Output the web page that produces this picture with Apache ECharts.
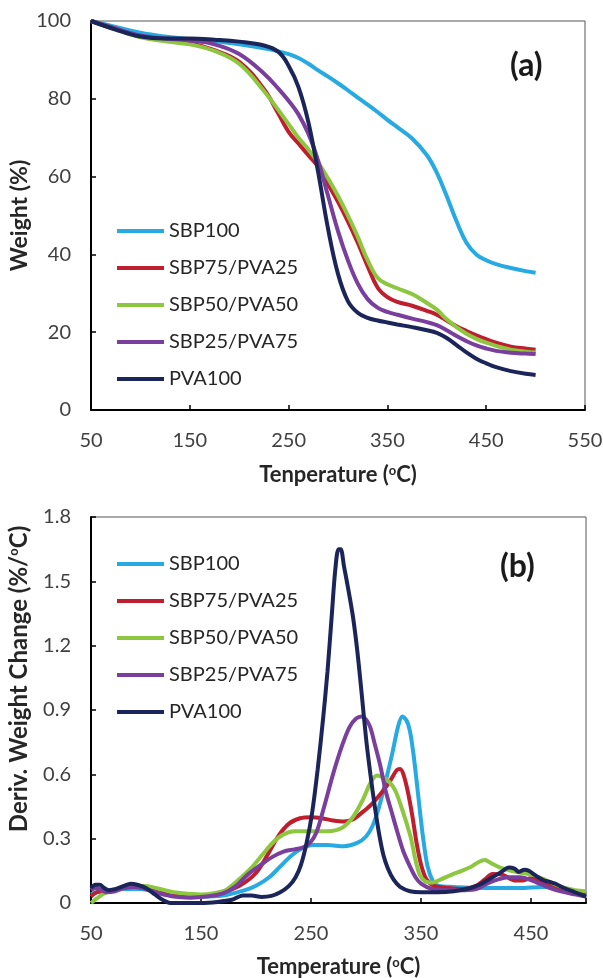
<!DOCTYPE html>
<html>
<head>
<meta charset="utf-8">
<script src="https://cdn.jsdelivr.net/npm/echarts@6/dist/echarts.min.js"></script>
<style>
  html, body { margin: 0; padding: 0; background: #fff; }
  #chart { width: 603px; height: 978px; }
</style>
</head>
<body>
<div id="chart"></div>
<script>
// 系列名称与颜色
const names = ["SBP100", "SBP75/PVA25", "SBP50/PVA50", "SBP25/PVA75", "PVA100"];
const colors = ["#27AAE1", "#BE1E2D", "#8DC63F", "#7A3E9D", "#1C2559"];

// (a) TGA 曲线: 温度 -> 失重
const tgaTemp = [50, 75, 100, 125, 150, 175, 200, 225, 240, 250, 260, 270, 280, 290, 300, 310, 320, 330, 340, 350, 360, 375, 390, 400, 410, 420, 430, 440, 450, 460, 475, 490, 500];
const tgaSbp100 = [100, 98.5, 97, 96, 95.3, 94.8, 94, 93, 92.2, 91.5, 90.5, 89, 87.3, 85.7, 84, 82.2, 80.3, 78.5, 76.6, 74.6, 72.7, 69.8, 65.5, 61, 55, 48.5, 43, 40, 38.5, 37.5, 36.5, 35.7, 35.3];
const tgaSbp75 = [100, 98, 96, 95, 94.3, 92.5, 89.5, 82.5, 76, 71.5, 68.5, 65.5, 62.5, 58, 53.5, 48.5, 43, 37, 31.5, 29, 27.8, 26.8, 25.5, 24.5, 23, 21.5, 20.3, 19.2, 18.2, 17.3, 16.3, 15.8, 15.5];
const tgaSbp50 = [100, 97.8, 95.8, 94.8, 94, 92.3, 89, 82, 77, 73.5, 70, 67, 63.5, 59.5, 55, 50, 44.5, 38.5, 34, 32.3, 31.3, 29.8, 27.5, 25.8, 23.3, 21.3, 19.6, 18.3, 17.3, 16.5, 15.5, 15, 14.8];
const tgaSbp25 = [100, 98, 96.3, 95.5, 95, 94, 91.5, 86.5, 82.5, 79.5, 76, 71, 64, 55, 46, 38.5, 32.5, 28.5, 26.3, 25.2, 24.5, 23.5, 22.6, 21.8, 20.5, 19, 17.7, 16.6, 15.8, 15.2, 14.7, 14.5, 14.4];
const tgaPva100 = [100, 97.8, 96, 95.5, 95.5, 95.2, 94.7, 93.7, 92, 88.5, 83, 74, 61, 46.5, 35, 28, 25, 23.7, 23, 22.5, 22, 21.3, 20.5, 19.8, 18.5, 16.7, 14.8, 13.2, 12, 11, 10, 9.3, 9];

// (b) DTG 曲线: [温度, 失重速率]
const dtgSbp100 = [[50, 0.04], [55, 0.05], [65, 0.06], [80, 0.065], [95, 0.065], [110, 0.05], [130, 0.035], [150, 0.03], [170, 0.035], [190, 0.06], [200, 0.08], [212, 0.12], [222, 0.17], [232, 0.22], [242, 0.255], [252, 0.27], [265, 0.27], [280, 0.265], [292, 0.28], [300, 0.31], [306, 0.36], [312, 0.45], [318, 0.57], [324, 0.7], [329, 0.82], [333, 0.87], [337, 0.85], [340, 0.8], [343, 0.7], [346, 0.57], [349, 0.43], [352, 0.3], [356, 0.17], [361, 0.1], [366, 0.08], [380, 0.075], [400, 0.07], [420, 0.07], [440, 0.07], [460, 0.075], [475, 0.07], [490, 0.055], [500, 0.04]];
const dtgSbp75 = [[50, 0.03], [55, 0.05], [65, 0.055], [80, 0.07], [92, 0.08], [105, 0.065], [125, 0.04], [150, 0.035], [170, 0.05], [185, 0.08], [200, 0.14], [210, 0.22], [220, 0.31], [230, 0.37], [240, 0.395], [250, 0.4], [260, 0.395], [270, 0.385], [280, 0.38], [288, 0.39], [296, 0.42], [305, 0.46], [315, 0.52], [322, 0.57], [328, 0.62], [331, 0.625], [334, 0.6], [338, 0.52], [342, 0.41], [346, 0.28], [350, 0.18], [355, 0.11], [362, 0.08], [375, 0.07], [388, 0.065], [400, 0.08], [408, 0.11], [415, 0.135], [425, 0.13], [435, 0.105], [442, 0.105], [450, 0.115], [460, 0.1], [475, 0.07], [490, 0.05], [500, 0.04]];
const dtgSbp50 = [[50, 0.0], [55, 0.02], [62, 0.045], [75, 0.065], [90, 0.08], [105, 0.075], [125, 0.05], [150, 0.04], [170, 0.055], [180, 0.09], [195, 0.16], [205, 0.22], [215, 0.28], [225, 0.32], [235, 0.335], [250, 0.335], [265, 0.335], [278, 0.35], [288, 0.4], [297, 0.48], [304, 0.56], [310, 0.595], [316, 0.585], [322, 0.56], [327, 0.52], [332, 0.45], [337, 0.37], [341, 0.3], [345, 0.2], [349, 0.13], [354, 0.1], [360, 0.095], [368, 0.11], [377, 0.13], [387, 0.15], [396, 0.17], [402, 0.19], [408, 0.2], [414, 0.185], [422, 0.165], [432, 0.15], [442, 0.14], [452, 0.13], [462, 0.11], [475, 0.08], [490, 0.06], [500, 0.055]];
const dtgSbp25 = [[50, 0.06], [54, 0.07], [58, 0.065], [64, 0.05], [72, 0.055], [80, 0.07], [90, 0.075], [100, 0.065], [112, 0.045], [125, 0.03], [140, 0.025], [155, 0.03], [170, 0.045], [182, 0.08], [192, 0.13], [205, 0.18], [215, 0.215], [225, 0.24], [235, 0.25], [243, 0.26], [249, 0.28], [255, 0.33], [262, 0.45], [270, 0.6], [278, 0.73], [285, 0.82], [291, 0.86], [296, 0.87], [303, 0.83], [308, 0.74], [313, 0.64], [318, 0.52], [323, 0.43], [328, 0.34], [334, 0.24], [340, 0.17], [345, 0.12], [350, 0.09], [360, 0.065], [375, 0.06], [390, 0.06], [400, 0.065], [410, 0.09], [420, 0.11], [430, 0.12], [440, 0.12], [448, 0.11], [458, 0.09], [470, 0.065], [485, 0.045], [500, 0.03]];
const dtgPva100 = [[50, 0.07], [54, 0.085], [58, 0.085], [62, 0.07], [66, 0.06], [72, 0.065], [80, 0.08], [86, 0.09], [92, 0.085], [100, 0.07], [108, 0.04], [115, 0.015], [122, 0.0], [135, 0.0], [150, 0.0], [165, 0.005], [178, 0.015], [188, 0.035], [196, 0.035], [205, 0.028], [214, 0.033], [222, 0.05], [230, 0.08], [236, 0.12], [241, 0.18], [246, 0.28], [251, 0.42], [256, 0.62], [261, 0.86], [265, 1.08], [269, 1.35], [272, 1.55], [275, 1.65], [277, 1.65], [280, 1.57], [284, 1.46], [288, 1.34], [292, 1.18], [296, 0.98], [300, 0.77], [304, 0.6], [308, 0.45], [312, 0.32], [316, 0.22], [320, 0.16], [325, 0.11], [331, 0.075], [340, 0.055], [350, 0.05], [365, 0.05], [380, 0.055], [395, 0.07], [405, 0.09], [415, 0.12], [423, 0.145], [430, 0.165], [435, 0.16], [439, 0.145], [444, 0.155], [448, 0.15], [455, 0.125], [462, 0.105], [466, 0.1], [472, 0.09], [480, 0.07], [490, 0.05], [500, 0.03]];

const tgaValues = [tgaSbp100, tgaSbp75, tgaSbp50, tgaSbp25, tgaPva100];
const dtgValues = [dtgSbp100, dtgSbp75, dtgSbp50, dtgSbp25, dtgPva100];

const chart = echarts.init(document.getElementById("chart"));

const font = "Lato, 'Open Sans', sans-serif";
const labelStyle = { color: "#404040", fontSize: 20, fontFamily: font };
const supStyle = { fontSize: 13, fontWeight: "bold", verticalAlign: "top", color: "#262626", fontFamily: font };
const nameStyle = {
	color: "#262626",
	fontSize: 22,
	fontWeight: "bold",
	fontFamily: font,
	rich: { sup: supStyle },
};
const axisLine = { show: true, onZero: false, lineStyle: { color: "#000", width: 2 } };
const axisTick = { show: true, inside: true, length: 5, lineStyle: { color: "#000", width: 1.5 } };

const legendBase = {
	orient: "vertical",
	left: 112,
	itemWidth: 47,
	itemHeight: 4,
	itemGap: 17,
	icon: "rect",
	selectedMode: false,
	data: names,
	textStyle: { color: "#262626", fontSize: 20, fontFamily: font },
};

const series = [];
names.forEach((n, i) => {
	series.push({
		name: n,
		type: "line",
		xAxisIndex: 0,
		yAxisIndex: 0,
		smooth: 0.4,
		symbol: "none",
		lineStyle: { width: 4, color: colors[i] },
		itemStyle: { color: colors[i] },
		data: tgaTemp.map((t, k) => [t, tgaValues[i][k]]),
	});
});
names.forEach((n, i) => {
	series.push({
		name: n,
		type: "line",
		xAxisIndex: 1,
		yAxisIndex: 1,
		smooth: 0.3,
		symbol: "none",
		lineStyle: { width: 4, color: colors[i] },
		itemStyle: { color: colors[i] },
		data: dtgValues[i],
	});
});

const option = {
	animation: false,
	backgroundColor: "#fff",
	title: [
		{ text: "(a)", left: 510, top: 50, padding: 0, textStyle: { fontSize: 32, fontWeight: "bold", color: "#1a1a1a", fontFamily: font } },
		{ text: "(b)", left: 500, top: 551, padding: 0, textStyle: { fontSize: 32, fontWeight: "bold", color: "#1a1a1a", fontFamily: font } },
	],
	legend: [
		Object.assign({}, legendBase, { top: 216 }),
		Object.assign({}, legendBase, { top: 549 }),
	],
	grid: [
		{ left: 91, right: 18, top: 21, height: 389, show: true, borderColor: "#555", borderWidth: 1, containLabel: false, outerBoundsMode: "none" },
		{ left: 91, right: 17, top: 517, height: 386, show: true, borderColor: "#555", borderWidth: 1, containLabel: false, outerBoundsMode: "none" },
	],
	xAxis: [
		{
			type: "value", gridIndex: 0, min: 50, max: 550, interval: 100,
			name: "Tenperature ({sup|o}C)", nameLocation: "middle", nameGap: 54, nameTextStyle: nameStyle,
			axisLine: axisLine, axisTick: axisTick, splitLine: { show: false },
			axisLabel: Object.assign({ margin: 21 }, labelStyle),
		},
		{
			type: "value", gridIndex: 1, min: 50, max: 500, interval: 100,
			name: "Temperature ({sup|o}C)", nameLocation: "middle", nameGap: 53, nameTextStyle: nameStyle,
			axisLine: axisLine, axisTick: axisTick, splitLine: { show: false },
			axisLabel: Object.assign({ margin: 21, formatter: (v) => (v === 500 ? "" : String(v)) }, labelStyle),
		},
	],
	yAxis: [
		{
			type: "value", gridIndex: 0, min: 0, max: 100, interval: 20,
			name: "Weight (%)", nameLocation: "middle", nameGap: 60, nameMoveOverlap: false,
			nameTextStyle: Object.assign({}, nameStyle, { fontSize: 23 }),
			axisLine: axisLine, axisTick: axisTick, splitLine: { show: false },
			axisLabel: Object.assign({ margin: 20 }, labelStyle),
		},
		{
			type: "value", gridIndex: 1, min: 0, max: 1.8, interval: 0.3,
			name: "Deriv. Weight Change (%/{sup|o}C)", nameLocation: "middle", nameGap: 60, nameMoveOverlap: false,
			nameTextStyle: Object.assign({}, nameStyle, { fontSize: 24, padding: [0, 0, 0, 62] }),
			axisLine: axisLine, axisTick: axisTick, splitLine: { show: false },
			axisLabel: Object.assign({ margin: 20, formatter: (v) => (v === 0 ? "0" : v.toFixed(1)) }, labelStyle),
		},
	],
	series: series,
};

chart.setOption(option);
</script>
</body>
</html>
